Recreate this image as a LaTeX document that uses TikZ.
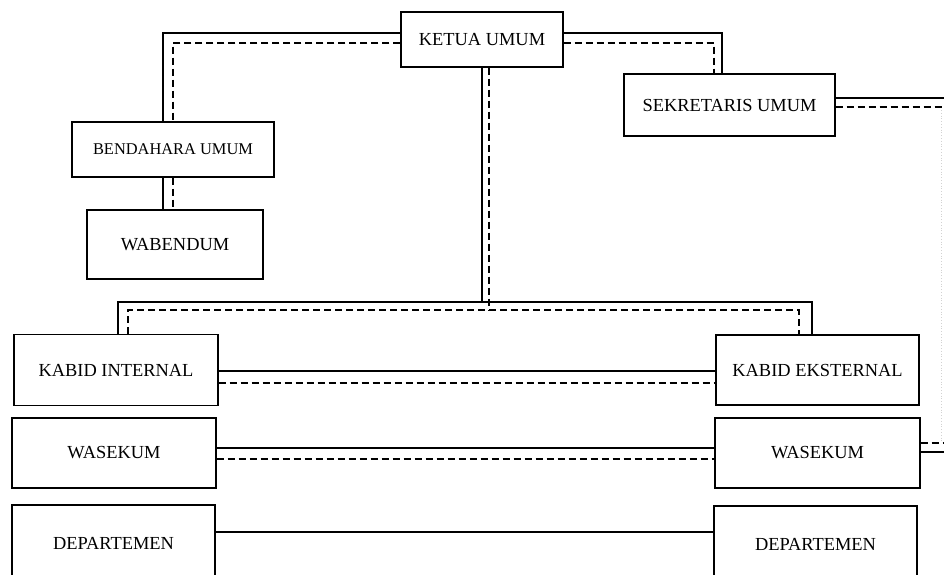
\documentclass[tikz,border=0pt]{standalone}
\usepackage{fontspec}
\setmainfont{Liberation Serif}
\tikzset{
	box/.style={draw, line width=1.1pt, inner sep=0pt, font=\fontsize{18.4}{21}\selectfont},
	conn/.style={line width=1.1pt},
	dconn/.style={line width=1.1pt, dash pattern=on 7pt off 4pt},
	faint/.style={gray!35, line width=0.8pt, dotted}
}
\begin{document}
\begin{tikzpicture}[x=1pt,y=-1pt]
		\useasboundingbox (0,0) rectangle (944,574);
		\node[box, minimum width=162pt, minimum height=55pt] (ketua) at (482,39.5) {KETUA UMUM};
		\node[box, minimum width=211pt, minimum height=62pt] (sekretaris) at (729.5,105) {SEKRETARIS UMUM};
		\node[box, minimum width=202pt, minimum height=55pt, font=\fontsize{16.4}{19}\selectfont] (bendahara) at (173,149.5) {BENDAHARA UMUM};
		\node[box, minimum width=176pt, minimum height=69pt] (wabendum) at (175,244.5) {WABENDUM};
		\node[box, minimum width=204pt, minimum height=71pt] (kabidint) at (116,370) {KABID INTERNAL};
		\node[box, minimum width=204pt, minimum height=70pt] (wasekumL) at (114,453) {WASEKUM};
		\node[box, minimum width=203pt, minimum height=76pt] (deptL) at (113.5,543) {DEPARTEMEN};
		\node[box, minimum width=203pt, minimum height=70pt] (kabideks) at (817.5,370) {KABID EKSTERNAL};
		\node[box, minimum width=205pt, minimum height=70pt] (wasekumR) at (817.5,453) {WASEKUM};
		\node[box, minimum width=203pt, minimum height=76pt] (deptR) at (815.5,544) {DEPARTEMEN};
		\coordinate (bus) at (0,302);
		\coordinate (dbus) at (0,310);
		\coordinate (kd) at ([xshift=7pt]ketua.south);
		\coordinate (sekR) at (944,98);
		\coordinate (sekRd) at (944,107);
		\coordinate (wasR) at (944,452);
		\coordinate (wasRd) at (944,443);
		\draw[conn] (ketua.west |- 0,33) -| ([xshift=-10pt]bendahara.north);
		\draw[dconn] (ketua.west |- 0,43) -| (bendahara.north);
		\draw[conn] (ketua.east |- 0,33) -| ([xshift=-7.5pt]sekretaris.north);
		\draw[dconn] (ketua.east |- 0,43) -| ([xshift=-15.5pt]sekretaris.north);
		\draw[conn] ([xshift=-10pt]bendahara.south) -- ([xshift=-12pt]wabendum.north);
		\draw[dconn] (bendahara.south) -- ([xshift=-2pt]wabendum.north);
		\draw[conn] ([xshift=2pt]kabidint.north) |- (ketua.south |- bus) -- (ketua.south);
		\draw[conn] (ketua.south |- bus) -| ([xshift=-5.5pt]kabideks.north);
		\draw[dconn] ([xshift=12pt]kabidint.north) |- (kd |- dbus) -| ([xshift=-18.5pt]kabideks.north);
		\draw[dconn] (kd) -- (kd |- dbus);
		\draw[conn] (kabidint.east |- 0,371) -- (kabideks.west |- 0,371);
		\draw[dconn] (kabidint.east |- 0,383) -- (kabideks.west |- 0,383);
		\draw[conn] (wasekumL.east |- 0,448) -- (wasekumR.west |- 0,448);
		\draw[dconn] (wasekumL.east |- 0,459) -- (wasekumR.west |- 0,459);
		\draw[conn] (deptL.east |- 0,532) -- (deptR.west |- 0,532);
		\draw[conn] (sekretaris.east |- sekR) -- (sekR);
		\draw[dconn] (sekretaris.east |- sekRd) -- (sekRd);
		\draw[conn] (wasekumR.east |- wasR) -- (wasR);
		\draw[dconn] (wasekumR.east |- wasRd) -- (wasRd);
		\draw[faint] (941,110) -- (941,443);
	\end{tikzpicture}
\end{document}
